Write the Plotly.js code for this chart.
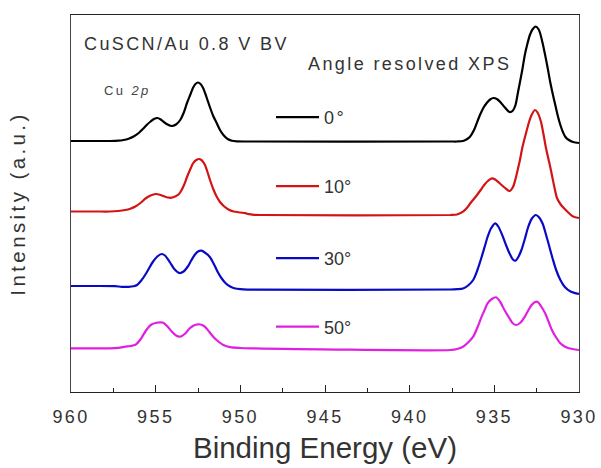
<!DOCTYPE html>
<html>
<head>
<meta charset="utf-8">
<script src="https://cdn.plot.ly/plotly-3.0.1.min.js"></script>
<style>
  html, body { margin: 0; padding: 0; background: #fff; }
  #chart { width: 601px; height: 468px; }
  .legendtext, .annotation-text, .xtick text { letter-spacing: 2.4px; }
  .ytitle { letter-spacing: 3.4px; }
</style>
</head>
<body>
<div id="chart"></div>
<script>
// Binding energy (eV) and intensity (a.u., offset stacked)
const energy0 = [960, 958.5, 957.7, 957.2, 956.9, 956.6, 956.3, 956.0, 955.7, 955.5, 955.3, 955.1, 954.9, 954.7, 954.55, 954.3, 954.05, 953.8, 953.55, 953.35, 953.15, 952.95, 952.8, 952.65, 952.5, 952.35, 952.2, 952.0, 951.8, 951.6, 951.4, 951.2, 951.0, 950.75, 950.5, 950.2, 949.8,
  937.6, 937.2, 936.85, 936.6, 936.45, 936.2, 935.85, 935.65, 935.45, 935.25, 935.05, 934.85, 934.65, 934.4, 934.1, 933.9, 933.75, 933.6, 933.35, 933.2, 933.05, 932.9, 932.75, 932.55, 932.4, 932.3, 932.15, 932.0, 931.85, 931.7, 931.55, 931.4, 931.25, 931.1, 930.95, 930.8, 930.6, 930.35, 930.0];
const intensity0 = [251, 251, 251, 251.3, 252, 253.3, 255.5, 259, 264, 267.5, 270.5, 273, 274, 272.5, 270.5, 267.5, 266, 267.5, 272, 279, 289, 297.5, 304, 308, 309.5, 308, 304, 295, 285, 276, 269, 262, 257, 253, 251.3, 250.7, 250.5,
  250.5, 250.5, 251, 253, 255, 262, 277, 284, 289, 292.5, 294, 293, 290, 285, 280, 281.5, 287, 300, 322, 337, 348, 357, 362.5, 365.5, 363, 359, 349, 337, 324, 310, 298, 287, 276, 267, 260, 255, 252, 250, 249];

const energy10 = [960, 958.5, 957.7, 957.2, 956.8, 956.5, 956.2, 955.9, 955.6, 955.3, 955.0, 954.8, 954.6, 954.4, 954.2, 954.05, 953.85, 953.65, 953.5, 953.3, 953.15, 952.95, 952.8, 952.6, 952.45, 952.3, 952.1, 951.95, 951.8, 951.6, 951.4, 951.2, 950.95, 950.7, 950.4, 950.0, 949.7, 949.5, 949.2, 948.8,
  937.6, 937.2, 936.85, 936.6, 936.45, 936.1, 935.85, 935.6, 935.35, 935.15, 934.95, 934.7, 934.4, 934.1, 933.9, 933.75, 933.65, 933.5, 933.35, 933.15, 932.95, 932.8, 932.6, 932.45, 932.25, 932.1, 931.95, 931.75, 931.6, 931.45, 931.3, 931.1, 930.9, 930.6, 930.35, 930.0];
const intensity10 = [180.5, 180.5, 180.5, 181, 182, 183.3, 185.5, 189, 193.5, 196.5, 198, 197.5, 196.2, 195, 194.3, 194.3, 195.5, 197.5, 201, 208, 215, 223, 228.5, 232, 233, 232, 227.5, 220.5, 212.5, 203, 195.5, 190, 185.5, 182.5, 180.5, 179.5, 178.8, 177.8, 177.2, 177,
  177, 177.5, 180.3, 184.5, 188, 195.3, 201, 207, 211.5, 213.7, 212.5, 209, 204.5, 201, 205, 213, 220, 231, 244, 257.5, 270, 277, 282, 279.5, 270.5, 258, 244, 229, 217, 204.5, 194, 188, 184, 179, 175.5, 174];

const energy30 = [960, 958.5, 957.4, 957.0, 956.6, 956.3, 956.1, 955.85, 955.55, 955.35, 955.15, 954.9, 954.65, 954.45, 954.15, 953.9, 953.6, 953.35, 953.1, 952.9, 952.7, 952.5, 952.3, 952.1, 951.8, 951.55, 951.35, 951.1, 950.85, 950.6, 950.35, 950.0, 949.6,
  937.6, 937.2, 936.85, 936.55, 936.25, 936.0, 935.75, 935.55, 935.4, 935.2, 934.95, 934.75, 934.5, 934.3, 934.1, 933.9, 933.75, 933.6, 933.4, 933.2, 933.0, 932.8, 932.55, 932.35, 932.15, 931.95, 931.75, 931.55, 931.35, 931.1, 930.85, 930.5, 930.0];
const intensity30 = [106, 106, 105.8, 105.2, 105.2, 105.8, 107, 111.5, 119, 125, 130.5, 135.5, 138, 136.5, 129.5, 123, 119, 120.5, 125.5, 131.5, 137, 140.5, 141.3, 139.5, 135, 127.5, 120.5, 113.5, 108.5, 105.5, 103.8, 102.8, 102.3,
  102.5, 102.8, 103.5, 106.5, 112, 122, 135, 146.5, 155, 163.5, 168.7, 165, 155.5, 146.5, 138.5, 132.5, 131.3, 134.5, 142, 153, 165, 173, 177, 174.5, 168.5, 157.5, 145.3, 133, 122, 112, 105.3, 100.5, 98];

const energy50 = [960, 958.5, 957.7, 957.2, 956.8, 956.5, 956.2, 955.9, 955.55, 955.25, 954.95, 954.75, 954.55, 954.3, 954.05, 953.8, 953.55, 953.25, 953.0, 952.75, 952.5, 952.3, 952.1, 951.85, 951.6, 951.3, 951.0, 950.6, 950.0, 949.4,
  937.6, 937.2, 936.85, 936.55, 936.25, 936.0, 935.75, 935.55, 935.4, 935.15, 934.9, 934.65, 934.4, 934.1, 933.9, 933.7, 933.45, 933.2, 933.0, 932.8, 932.6, 932.45, 932.25, 932.0, 931.8, 931.6, 931.35, 931.1, 930.85, 930.6, 930.0];
const intensity50 = [43.7, 43.7, 43.7, 44.2, 45.3, 46, 47.2, 52.5, 62, 67.5, 69.3, 69.6, 69.3, 65.5, 60.5, 56.5, 55.3, 58.5, 63.5, 66.5, 67.7, 67.3, 65.3, 60.5, 55.3, 50.5, 47, 44.8, 44, 43.7,
  42, 43, 45.3, 49.5, 55.3, 64.5, 75.3, 83, 88.7, 93, 94.7, 90, 82, 73.5, 68.5, 67, 69.5, 75.3, 81.5, 87, 90, 90.3, 86, 78.7, 70.5, 62, 54.5, 48.7, 45.5, 43.7, 42];

const seriesNames = ['0°', '10°', '30°', '50°'];
const seriesColors = ['#000000', '#d41414', '#0a0ac4', '#e020e0'];
const xTickVals = [960, 955, 950, 945, 940, 935, 930];
const xTickText = ['960', '955', '950', '945', '940', '935', '930'];

const FONT = '"Liberation Sans", Arial, sans-serif';
const TXT = '#333333';

const energies = [energy0, energy10, energy30, energy50];
const intens = [intensity0, intensity10, intensity30, intensity50];
const legendIds = ['legend', 'legend2', 'legend3', 'legend4'];

const traces = energies.map((e, i) => ({
  type: 'scatter', mode: 'lines',
  x: e, y: intens[i], name: seriesNames[i],
  legend: legendIds[i],
  line: { color: seriesColors[i], width: 2.2, shape: 'spline', smoothing: 0.8 },
  hoverinfo: 'skip'
}));

function legendAt(ypix) {
  return {
    x: (271 - 71) / 508, xanchor: 'left',
    y: (392 - ypix) / 377, yanchor: 'middle',
    bgcolor: 'rgba(0,0,0,0)', borderwidth: 0,
    itemwidth: 43,
    font: { family: FONT, size: 18, color: TXT },
    tracegroupgap: 0, itemclick: false, itemdoubleclick: false
  };
}

const layout = {
  width: 601, height: 468,
  margin: { l: 71, r: 22, t: 15, b: 76, pad: 0 },
  paper_bgcolor: '#ffffff', plot_bgcolor: '#ffffff',
  font: { family: FONT, color: TXT },
  showlegend: true,
  legend: legendAt(117.5),
  legend2: legendAt(186.5),
  legend3: legendAt(258.5),
  legend4: legendAt(327),
  xaxis: {
    range: [960, 930], autorange: false,
    tickvals: xTickVals, ticktext: xTickText,
    ticks: 'inside', ticklen: 7, tickwidth: 1, tickcolor: '#222',
    minor: { dtick: 2.5, tick0: 960, ticks: 'inside', ticklen: 4, tickwidth: 1, tickcolor: '#222', showgrid: false },
    showline: true, linecolor: '#222', linewidth: 1, mirror: true,
    showgrid: false, zeroline: false,
    tickfont: { family: FONT, size: 18, color: TXT },
    ticklabelstandoff: 8,
    title: { text: 'Binding Energy (eV)', font: { family: FONT, size: 29.5, color: TXT }, standoff: 11 }
  },
  yaxis: {
    range: [0, 377], autorange: false,
    showticklabels: false, ticks: '',
    showline: true, linecolor: '#444', linewidth: 1, mirror: true,
    showgrid: false, zeroline: false,
    title: { text: 'Intensity (a.u.)\u00a0\u00a0\u00a0\u00a0', font: { family: FONT, size: 20.5, color: TXT }, standoff: 38 }
  },
  annotations: [
    { text: 'CuSCN/Au 0.8 V BV', xref: 'paper', yref: 'paper', x: (82 - 71) / 508, y: (392 - 44) / 377,
      xanchor: 'left', yanchor: 'middle', showarrow: false, font: { family: FONT, size: 18, color: TXT } },
    { text: 'Angle resolved XPS', xref: 'paper', yref: 'paper', x: (306 - 71) / 508, y: (392 - 64) / 377,
      xanchor: 'left', yanchor: 'middle', showarrow: false, font: { family: FONT, size: 18, color: TXT } },
    { text: 'Cu <i>2p</i>', xref: 'paper', yref: 'paper', x: (102 - 71) / 508, y: (392 - 90) / 377,
      xanchor: 'left', yanchor: 'middle', showarrow: false, font: { family: FONT, size: 13, color: '#444' } }
  ]
};

Plotly.newPlot('chart', traces, layout, { displayModeBar: false, staticPlot: true });
</script>
</body>
</html>
